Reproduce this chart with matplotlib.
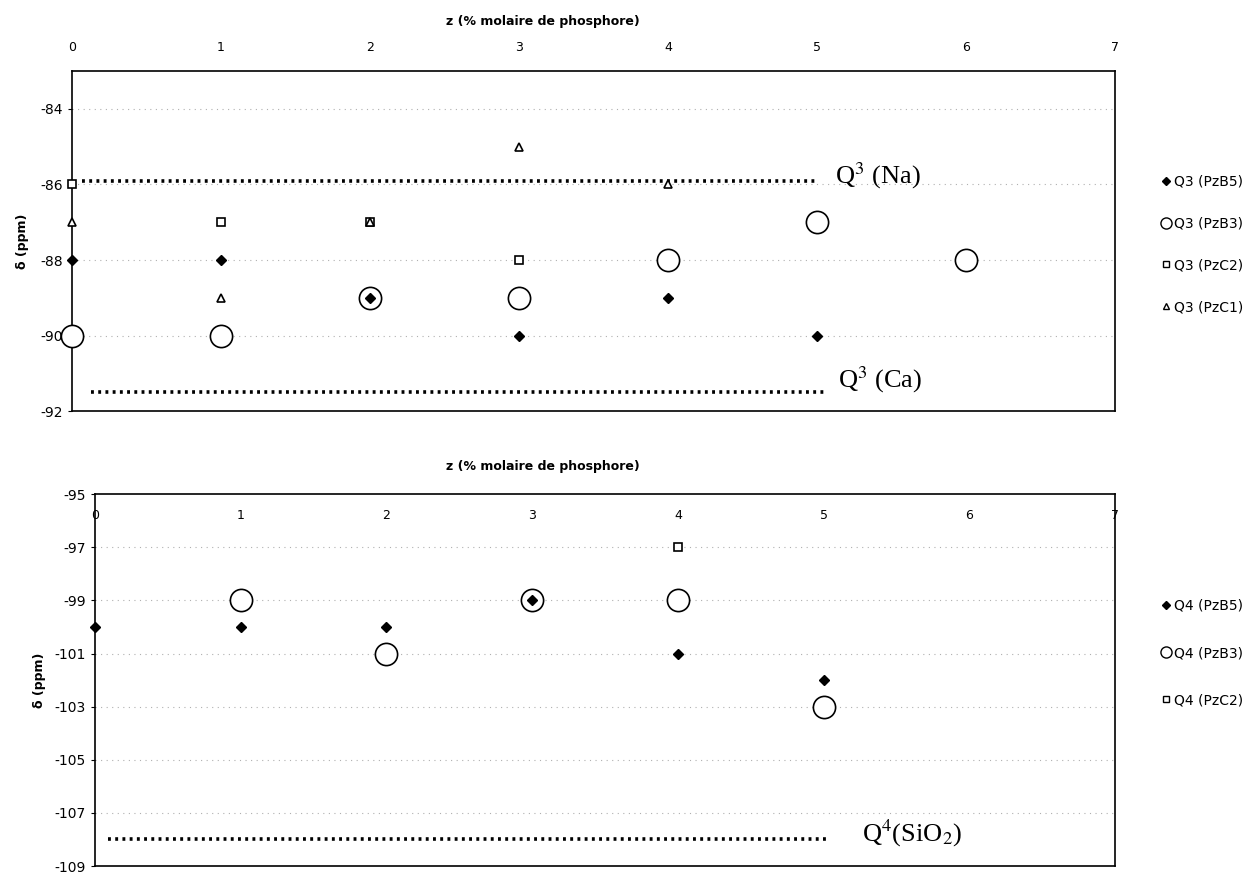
import matplotlib.pyplot as plt
from matplotlib.lines import Line2D

plt.rcParams['font.family'] = ['DejaVu Sans']
plt.rcParams['mathtext.fontset'] = 'stix'
plt.rcParams['axes.unicode_minus'] = False

# z values (% molaire de phosphore) and chemical shifts (ppm)
q3_pzb5_z = [0, 1, 2, 3, 4, 5]
q3_pzb5 = [-88, -88, -89, -90, -89, -90]
q3_pzb3_z = [0, 1, 2, 3, 4, 5, 6]
q3_pzb3 = [-90, -90, -89, -89, -88, -87, -88]
q3_pzc2_z = [0, 1, 2, 3]
q3_pzc2 = [-86, -87, -87, -88]
q3_pzc1_z = [0, 1, 2, 3, 4]
q3_pzc1 = [-87, -89, -87, -85, -86]

q4_pzb5_z = [0, 1, 2, 3, 4, 5]
q4_pzb5 = [-100, -100, -100, -99, -101, -102]
q4_pzb3_z = [1, 2, 3, 4, 5]
q4_pzb3 = [-99, -101, -99, -99, -103]
q4_pzc2_z = [4]
q4_pzc2 = [-97]

# reference levels
q3_na_level = -85.9
q3_ca_level = -91.5
q4_sio2_level = -108

x_ticks = [0, 1, 2, 3, 4, 5, 6, 7]
top_yticks = [-84, -86, -88, -90, -92]
bot_yticks = [-95, -97, -99, -101, -103, -105, -107, -109]

fig = plt.figure(figsize=(12.54, 8.73), dpi=100)
ax1 = fig.add_axes([0.0574, 0.529, 0.832, 0.3895])
ax2 = fig.add_axes([0.0758, 0.008, 0.8134, 0.426])

grid_kw = dict(color='#b0b0b0', linestyle=(0, (1, 4)), linewidth=0.8)
ref_kw = dict(color='black', linestyle=(0, (0.8, 1.2)), linewidth=2.6)

# ---- top chart (Q3) ----
for y in top_yticks[:-1]:
    ax1.axhline(y, zorder=0, **grid_kw)
ax1.plot(q3_pzb3_z, q3_pzb3, 'o', ms=16, mfc='white', mec='black', mew=1.2,
         ls='none', clip_on=False, zorder=3)
ax1.plot(q3_pzb5_z, q3_pzb5, 'D', ms=5, color='black', ls='none', clip_on=False, zorder=4)
ax1.plot(q3_pzc2_z, q3_pzc2, 's', ms=6, mfc='white', mec='black', mew=1.2,
         ls='none', clip_on=False, zorder=4)
ax1.plot(q3_pzc1_z, q3_pzc1, '^', ms=6, mfc='white', mec='black', mew=1.2,
         ls='none', clip_on=False, zorder=4)
ax1.plot([0.07, 4.99], [q3_na_level, q3_na_level], **ref_kw)
ax1.plot([0.13, 5.05], [q3_ca_level, q3_ca_level], **ref_kw)
ax1.text(5.12, -85.76, r'Q$^{3}$ (Na)', family='Liberation Serif', fontsize=19, va='center')
ax1.text(5.14, -91.18, r'Q$^{3}$ (Ca)', family='Liberation Serif', fontsize=19, va='center')

ax1.set_xlim(0, 7)
ax1.set_ylim(-92, -83)
ax1.set_xticks(x_ticks)
ax1.set_yticks(top_yticks)
ax1.xaxis.tick_top()
ax1.tick_params(axis='x', length=0, pad=12, labelsize=9)
ax1.tick_params(axis='y', length=3, labelsize=10)
ax1.set_ylabel('δ (ppm)', fontsize=9, fontweight='bold', labelpad=8)
fig.text(0.433, 0.975, 'z (% molaire de phosphore)', fontsize=9, fontweight='bold',
         ha='center', va='center')

top_handles = [
    Line2D([], [], marker='D', ms=4, color='black', ls='none'),
    Line2D([], [], marker='o', ms=8, mfc='white', mec='black', ls='none'),
    Line2D([], [], marker='s', ms=5, mfc='white', mec='black', ls='none'),
    Line2D([], [], marker='^', ms=5, mfc='white', mec='black', ls='none'),
]
top_labels = ['Q3 (PzB5)', 'Q3 (PzB3)', 'Q3 (PzC2)', 'Q3 (PzC1)']
fig.legend(top_handles, top_labels, loc='center left', bbox_to_anchor=(0.922, 0.72),
           frameon=False, fontsize=10, labelspacing=2.0, handlelength=0.6,
           handletextpad=0.3, borderaxespad=0)

# ---- bottom chart (Q4) ----
for y in bot_yticks[1:-1]:
    ax2.axhline(y, zorder=0, **grid_kw)
ax2.plot(q4_pzb3_z, q4_pzb3, 'o', ms=16, mfc='white', mec='black', mew=1.2,
         ls='none', clip_on=False, zorder=3)
ax2.plot(q4_pzb5_z, q4_pzb5, 'D', ms=5, color='black', ls='none', clip_on=False, zorder=4)
ax2.plot(q4_pzc2_z, q4_pzc2, 's', ms=6, mfc='white', mec='black', mew=1.2,
         ls='none', clip_on=False, zorder=4)
ax2.plot([0.09, 5.04], [q4_sio2_level, q4_sio2_level], **ref_kw)
ax2.text(5.26, -107.77, r'Q$^{4}$(SiO$_{2}$)', family='Liberation Serif', fontsize=19, va='center')

ax2.set_xlim(0, 7)
ax2.set_ylim(-109, -95)
ax2.set_xticks(x_ticks)
ax2.set_yticks(bot_yticks)
ax2.xaxis.tick_top()
ax2.tick_params(axis='x', length=0, pad=-20, labelsize=9)
ax2.tick_params(axis='y', length=3, labelsize=10)
ax2.set_ylabel('δ (ppm)', fontsize=9, fontweight='bold', labelpad=6)
fig.text(0.433, 0.466, 'z (% molaire de phosphore)', fontsize=9, fontweight='bold',
         ha='center', va='center')

bot_handles = [
    Line2D([], [], marker='D', ms=4, color='black', ls='none'),
    Line2D([], [], marker='o', ms=8, mfc='white', mec='black', ls='none'),
    Line2D([], [], marker='s', ms=5, mfc='white', mec='black', ls='none'),
]
bot_labels = ['Q4 (PzB5)', 'Q4 (PzB3)', 'Q4 (PzC2)']
fig.legend(bot_handles, bot_labels, loc='center left', bbox_to_anchor=(0.922, 0.252),
           frameon=False, fontsize=10, labelspacing=2.4, handlelength=0.6,
           handletextpad=0.3, borderaxespad=0)

for ax in (ax1, ax2):
    for s in ax.spines.values():
        s.set_linewidth(1.2)

fig.savefig('out.png', dpi=100)
